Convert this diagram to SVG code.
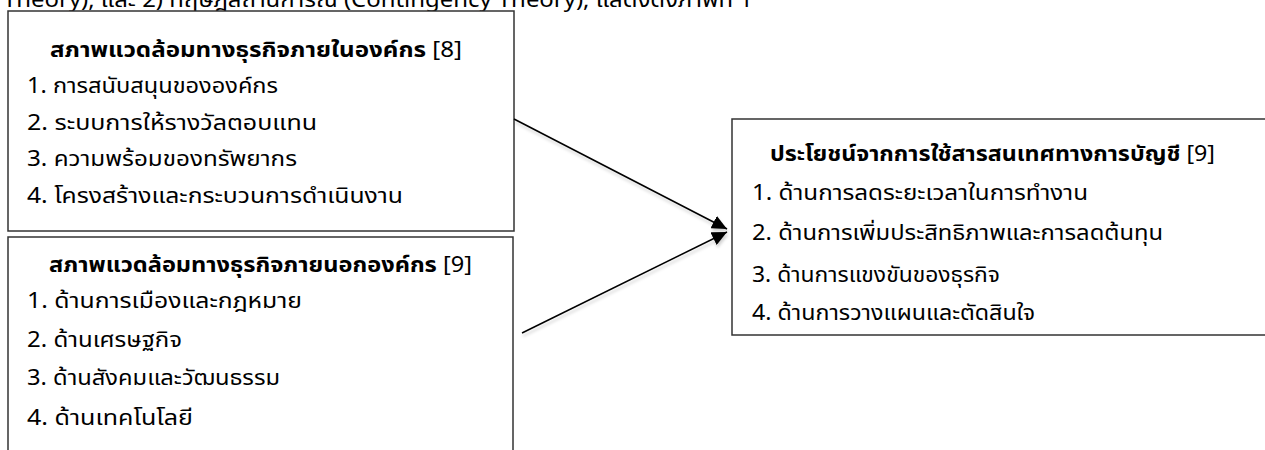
<svg xmlns="http://www.w3.org/2000/svg" width="1265" height="450" viewBox="0 0 1265 450">
<style>
text{font-family:Tahoma,"Noto Sans Thai","Leelawadee UI","DejaVu Sans",sans-serif;font-size:21px;fill:#000}
.t{font-weight:bold}
.n{font-weight:normal}
.box{fill:#fff;stroke:#333;stroke-width:1.5}
.ln{stroke:#000;stroke-width:1.5;fill:none;marker-end:url(#ah)}
</style>
<defs>
<marker id="ah" markerUnits="userSpaceOnUse" markerWidth="16" markerHeight="14" refX="15" refY="7" orient="auto">
<path d="M0,0 L15,7 L0,14 Z" fill="#000"/>
</marker>
<filter id="sh" x="-10%" y="-10%" width="120%" height="130%">
<feDropShadow dx="1" dy="3" stdDeviation="1.5" flood-color="#000" flood-opacity="0.18"/>
</filter>
</defs>
<text x="3" y="7" textLength="750" lengthAdjust="spacingAndGlyphs">Theory), และ 2) ทฤษฎีสถานการณ์ (Contingency Theory), แสดงดังภาพที่ 1</text>
<g id="internal">
<rect class="box" x="8" y="11" width="506" height="220"/>
<text class="t" x="50" y="57" textLength="412" lengthAdjust="spacingAndGlyphs">สภาพแวดล้อมทางธุรกิจภายในองค์กร <tspan class="n">[8]</tspan></text>
<text x="27" y="93" textLength="251" lengthAdjust="spacingAndGlyphs">1. การสนับสนุนขององค์กร</text>
<text x="27" y="130" textLength="290" lengthAdjust="spacingAndGlyphs">2. ระบบการให้รางวัลตอบแทน</text>
<text x="27" y="166" textLength="270" lengthAdjust="spacingAndGlyphs">3. ความพร้อมของทรัพยากร</text>
<text x="27" y="203" textLength="376" lengthAdjust="spacingAndGlyphs">4. โครงสร้างและกระบวนการดำเนินงาน</text>
</g>
<g id="external">
<rect class="box" x="8" y="237" width="505" height="230"/>
<text class="t" x="49" y="272" textLength="423" lengthAdjust="spacingAndGlyphs">สภาพแวดล้อมทางธุรกิจภายนอกองค์กร <tspan class="n">[9]</tspan></text>
<text x="27" y="308" textLength="275" lengthAdjust="spacingAndGlyphs">1. ด้านการเมืองและกฎหมาย</text>
<text x="27" y="347" textLength="155" lengthAdjust="spacingAndGlyphs">2. ด้านเศรษฐกิจ</text>
<text x="27" y="385" textLength="253" lengthAdjust="spacingAndGlyphs">3. ด้านสังคมและวัฒนธรรม</text>
<text x="27" y="425" textLength="166" lengthAdjust="spacingAndGlyphs">4. ด้านเทคโนโลยี</text>
</g>
<g id="benefits">
<rect class="box" x="732" y="119" width="560" height="216"/>
<text class="t" x="770" y="161" textLength="445" lengthAdjust="spacingAndGlyphs">ประโยชน์จากการใช้สารสนเทศทางการบัญชี <tspan class="n">[9]</tspan></text>
<text x="752" y="200" textLength="336" lengthAdjust="spacingAndGlyphs">1. ด้านการลดระยะเวลาในการทำงาน</text>
<text x="752" y="240" textLength="411" lengthAdjust="spacingAndGlyphs">2. ด้านการเพิ่มประสิทธิภาพและการลดต้นทุน</text>
<text x="752" y="282" textLength="248" lengthAdjust="spacingAndGlyphs">3. ด้านการแขงขันของธุรกิจ</text>
<text x="752" y="320" textLength="283" lengthAdjust="spacingAndGlyphs">4. ด้านการวางแผนและตัดสินใจ</text>
</g>
<g id="connectors" filter="url(#sh)">
<line class="ln" x1="514" y1="119" x2="727" y2="229"/>
<line class="ln" x1="522" y1="333" x2="727" y2="232"/>
</g>
</svg>
